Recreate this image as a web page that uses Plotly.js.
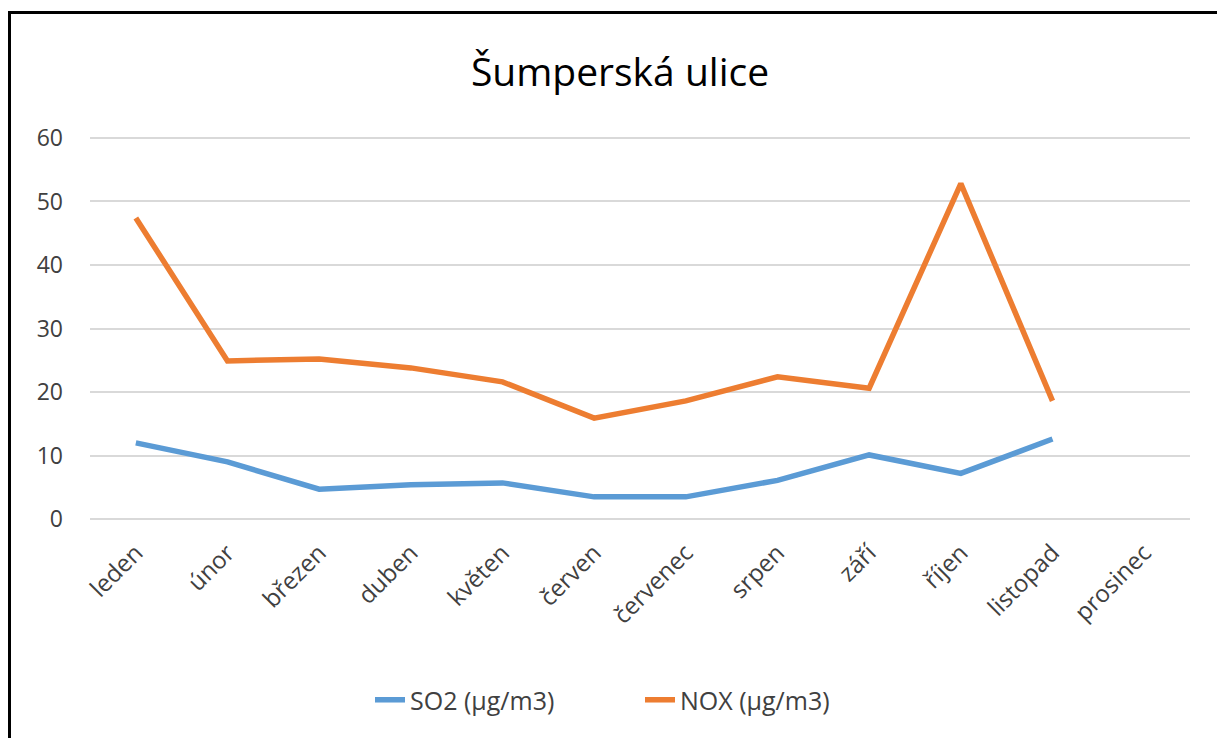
<!DOCTYPE html>
<html>
<head>
<meta charset="utf-8">
<script src="https://cdn.plot.ly/plotly-3.0.1.min.js"></script>
<style>
  html, body { margin: 0; padding: 0; background: #fff; overflow: hidden; }
  #chart { width: 1217px; height: 738px; }
  #frameTop { position: absolute; left: 8px; top: 11px; width: 1220px; height: 3px; background: #000; }
  #frameLeft { position: absolute; left: 8px; top: 11px; width: 3px; height: 740px; background: #000; }
</style>
</head>
<body>
<div id="chart"></div>
<div id="frameTop"></div>
<div id="frameLeft"></div>
<script>
const months = ["leden", "únor", "březen", "duben", "květen", "červen", "červenec", "srpen", "září", "říjen", "listopad", "prosinec"];
const so2 = [12.0, 9.0, 4.7, 5.4, 5.7, 3.5, 3.5, 6.1, 10.1, 7.2, 12.6, null];
const nox = [47.4, 24.9, 25.2, 23.8, 21.6, 15.9, 18.6, 22.4, 20.6, 52.8, 18.6, null];
const yTicks = [0, 10, 20, 30, 40, 50, 60];

const font = "Open Sans, Noto Sans, sans-serif";

const traces = [
  { x: months, y: so2, name: "SO2 (µg/m3)", type: "scatter", mode: "lines",
    line: { color: "#5B9BD5", width: 5.5 } },
  { x: months, y: nox, name: "NOX (µg/m3)", type: "scatter", mode: "lines",
    line: { color: "#ED7D31", width: 5.5 } }
];

const layout = {
  width: 1217, height: 738,
  margin: { l: 90, r: 27, t: 136, b: 217 },
  paper_bgcolor: "#fff", plot_bgcolor: "#fff",
  font: { family: font, color: "#404040", size: 20 },
  title: { text: "Šumperská ulice", x: 620 / 1217, xref: "container", xanchor: "center",
    y: 1 - 72 / 738, yref: "container", yanchor: "middle",
    font: { family: font, size: 39, color: "#000" } },
  xaxis: { type: "category", tickangle: -45, showgrid: false, zeroline: false,
    showline: false, ticks: "", ticklabelstandoff: 12, tickfont: { size: 24, color: "#404040" },
    range: [-0.5, 11.5] },
  yaxis: { range: [-0.3, 60.3], tickvals: yTicks, showgrid: true, gridcolor: "#D9D9D9",
    gridwidth: 2, zeroline: false, showline: false, ticks: "", ticklabelstandoff: 26,
    tickfont: { size: 23, color: "#404040" } },
  showlegend: true,
  legend: { orientation: "h", x: 0.5, xanchor: "center", y: -0.465, yanchor: "middle",
    entrywidth: 225, entrywidthmode: "pixels",
    font: { size: 25, color: "#404040" } }
};

Plotly.newPlot("chart", traces, layout, { displayModeBar: false });
</script>
</body>
</html>
